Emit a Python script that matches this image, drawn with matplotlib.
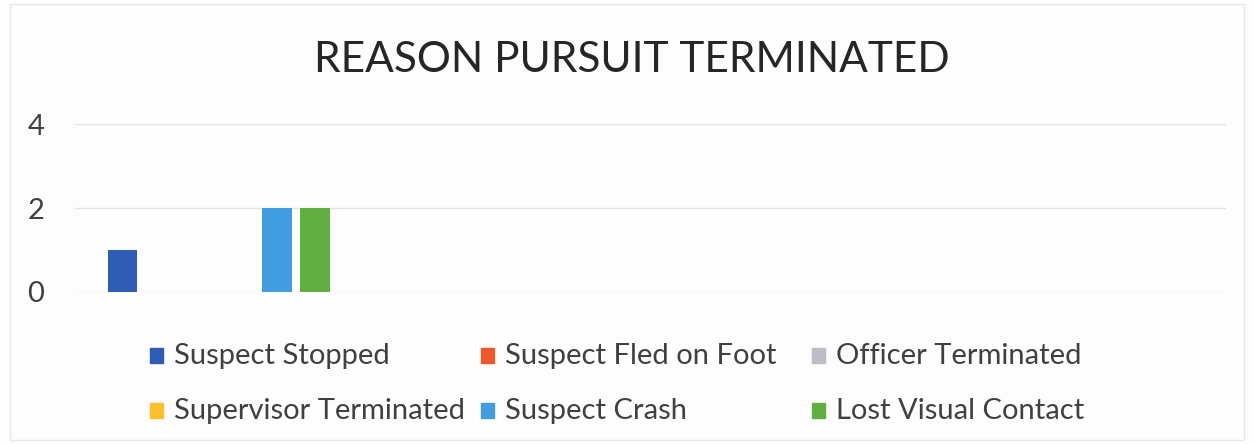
#! /usr/bin/env python3
import matplotlib
matplotlib.use('Agg')
import matplotlib.pyplot as plt
from matplotlib import patches

TITLE = 'REASON PURSUIT TERMINATED'
SERIES = ['Suspect Stopped', 'Suspect Fled on Foot', 'Officer Terminated',
          'Supervisor Terminated', 'Suspect Crash', 'Lost Visual Contact']
VALUES = [1, 0, 0, 0, 2, 2]
COLORS = ['#2F5DB6', '#EC5A2A', '#BDBDC6', '#FDBF2B', '#3F9DE0', '#62AE40']
YTICKS = [0, 2, 4]

W, H = 1254, 444


def main():
    plt.rcParams['font.family'] = ['Lato', 'DejaVu Sans']
    fig = plt.figure(figsize=(W / 100, H / 100), dpi=100)
    fig.patch.set_facecolor('#FDFDFE')
    fig.add_artist(patches.Rectangle((10 / W, 4 / H), 1 - 20 / W, 1 - 8 / H,
                                     transform=fig.transFigure, fill=False,
                                     edgecolor='#E8E8EC', linewidth=1))

    ax = fig.add_axes([75 / W, (H - 292) / H, (1226 - 75) / W, 168 / H])
    ax.set_facecolor('none')

    width = 0.104
    step = 0.134
    n = len(SERIES)
    for i, (name, val, col) in enumerate(zip(SERIES, VALUES, COLORS)):
        x = (i - (n - 1) / 2) * step
        ax.bar(x, val, width=width, color=col, zorder=3)

    ax.set_xlim(-0.5, 3.5)
    ax.set_ylim(0, 4)
    ax.set_yticks(YTICKS)
    ax.set_xticks([])
    ax.grid(axis='y', color='#E4E4EA', linewidth=1, zorder=0)
    for s in ax.spines.values():
        s.set_visible(False)
    ax.tick_params(axis='y', length=0, pad=22, labelsize=21,
                   labelcolor='#404040')

    fig.text(632 / W, 1 - 60 / H, TITLE, ha='center', va='center',
             fontsize=30.5, color='#262626')

    # legend: 3 columns of equal width, 2 rows
    for i, (name, col) in enumerate(zip(SERIES, COLORS)):
        c, r = i % 3, i // 3
        x0 = 150 + c * 331
        y0 = 356 + r * 55
        fig.add_artist(patches.Rectangle(
            (x0 / W, 1 - (y0 + 7) / H), 13 / W, 15 / H,
            transform=fig.transFigure, color=col))
        fig.text((x0 + 24) / W, 1 - y0 / H, name, ha='left', va='center',
                 fontsize=21, color='#404040')

    fig.savefig('out.png', dpi=100, facecolor=fig.get_facecolor())


if __name__ == '__main__':
    main()
